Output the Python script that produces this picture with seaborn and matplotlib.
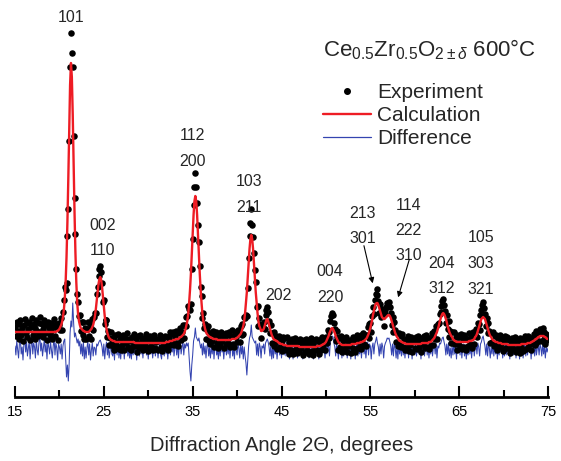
import numpy as np
import pandas as pd
import matplotlib
matplotlib.use('Agg')
import matplotlib.pyplot as plt
import seaborn as sns
from matplotlib.lines import Line2D

# 2Theta grid of the scan, 0.1 degree step
two_theta = np.linspace(15.0, 75.0, 601)

# calculated profile (one row per degree)
calc = np.array([
    65, 65, 65, 65, 65, 65, 65, 65, 65, 65,
    65, 65, 65, 65, 65, 65, 65, 65, 65, 65,
    65, 65, 65, 65, 65, 65, 65, 65, 65, 65,
    65, 65, 65, 65, 65, 65, 65, 65, 65, 65,
    65, 65, 65, 65, 65, 65, 65, 66, 66, 67,
    68, 70, 72, 75, 80, 87, 98, 115, 140, 175,
    218, 268, 312, 334, 320, 282, 233, 185, 145, 115,
    95, 83, 76, 72, 69, 68, 67, 66, 66, 65,
    65, 65, 65, 65, 66, 67, 68, 70, 72, 76,
    81, 88, 96, 105, 113, 118, 120, 117, 110, 100,
    90, 81, 74, 68, 64, 61, 59, 58, 57, 57,
    56, 56, 56, 55, 55, 55, 55, 55, 55, 55,
    55, 55, 55, 55, 55, 55, 55, 55, 55, 55,
    55, 55, 55, 55, 55, 54, 54, 54, 54, 54,
    54, 54, 54, 54, 54, 54, 54, 54, 54, 54,
    54, 54, 54, 54, 54, 54, 54, 54, 54, 54,
    54, 54, 54, 54, 54, 54, 54, 54, 54, 54,
    55, 55, 55, 55, 56, 56, 56, 56, 57, 57,
    57, 58, 58, 58, 58, 59, 60, 60, 61, 62,
    63, 65, 68, 72, 76, 83, 94, 107, 123, 142,
    162, 182, 196, 201, 196, 182, 162, 142, 123, 107,
    94, 83, 76, 72, 68, 65, 63, 62, 61, 60,
    60, 59, 59, 58, 58, 58, 58, 58, 57, 57,
    57, 57, 57, 57, 57, 57, 57, 57, 57, 57,
    57, 57, 57, 57, 58, 58, 58, 58, 58, 59,
    59, 60, 61, 62, 63, 65, 68, 71, 76, 84,
    94, 105, 119, 134, 148, 158, 162, 158, 148, 134,
    119, 105, 94, 84, 76, 71, 69, 66, 66, 67,
    68, 71, 74, 77, 78, 76, 72, 69, 65, 62,
    60, 58, 57, 57, 56, 56, 55, 54, 54, 53,
    53, 53, 52, 52, 52, 52, 51, 51, 51, 51,
    51, 51, 51, 51, 51, 51, 51, 51, 51, 51,
    50, 50, 50, 50, 50, 50, 50, 50, 50, 50,
    50, 50, 50, 50, 50, 50, 50, 50, 50, 50,
    51, 51, 51, 51, 51, 52, 52, 53, 53, 54,
    55, 57, 59, 61, 64, 66, 68, 69, 68, 66,
    64, 61, 59, 57, 55, 54, 53, 53, 52, 52,
    52, 52, 52, 52, 52, 52, 52, 52, 52, 53,
    53, 53, 53, 53, 53, 54, 54, 54, 54, 55,
    55, 55, 56, 56, 57, 58, 59, 61, 63, 66,
    69, 73, 77, 82, 86, 90, 93, 94, 94, 92,
    89, 86, 83, 80, 79, 78, 78, 79, 80, 81,
    82, 82, 81, 79, 76, 73, 70, 67, 64, 62,
    60, 59, 57, 56, 56, 55, 55, 54, 54, 54,
    53, 53, 53, 53, 53, 53, 53, 53, 53, 53,
    53, 53, 53, 53, 53, 53, 53, 53, 54, 54,
    54, 54, 54, 54, 54, 54, 55, 55, 55, 56,
    57, 58, 59, 61, 63, 65, 68, 71, 75, 78,
    81, 83, 84, 83, 81, 78, 75, 71, 68, 65,
    63, 61, 60, 58, 57, 56, 56, 55, 55, 55,
    55, 55, 55, 55, 55, 55, 55, 55, 55, 55,
    55, 56, 56, 56, 56, 57, 57, 58, 60, 61,
    63, 66, 69, 72, 75, 78, 79, 80, 79, 78,
    75, 72, 69, 66, 63, 61, 60, 58, 57, 56,
    56, 55, 55, 55, 54, 54, 54, 54, 53, 53,
    53, 53, 53, 53, 53, 52, 52, 52, 52, 52,
    52, 52, 52, 52, 52, 52, 52, 52, 52, 52,
    53, 53, 53, 53, 53, 53, 53, 54, 54, 54,
    54, 55, 55, 56, 56, 57, 58, 58, 59, 60,
    60, 61, 61, 61, 61, 61, 60, 60, 59, 58,
    58,
])

# experiment minus calculation
resid = np.array([
    5, -4, 10, 1, -7, 8, 12, -3, 4, -9,
    7, 13, -1, 9, -5, 3, 10, -8, 5, 14,
    -3, 8, 4, -7, 12, 1, -4, 9, 15, 0,
    8, -5, 3, 12, -1, 7, -8, 10, 4, -3,
    9, 1, -7, 5, 13, -4, 8, 3, -9, 7,
    4, -3, 7, -8, 5, 10, 12, -8, -26, -14,
    -30, -12, 18, 30, 24, 48, 28, 14, 18, 13,
    8, 12, 5, 10, -3, 7, -5, 9, -8, 4,
    -7, 3, 10, -4, 7, -9, 1, 8, -5, 4,
    3, -4, 7, 5, 8, 10, 11, 8, 4, -5,
    7, -8, 3, 9, -4, 5, -7, 1, 8, -3,
    -5, 4, -9, 7, 0, -4, 8, -7, 3, -8,
    5, -3, 7, -8, 4, -1, 9, -5, 3, -7,
    1, -8, 5, -4, 8, -3, 4, -9, 7, 0,
    -5, 8, -3, 4, -7, 5, -1, 9, -4, 3,
    -8, 4, 7, -3, 5, -7, 3, 8, -5, 1,
    4, -7, 3, 8, -4, -8, 5, 1, -5, 7,
    -3, 5, -8, 4, 9, -4, 7, -1, 8, -5,
    3, 8, -4, 7, -7, 5, 9, -3, 4, 10,
    -4, 7, 3, 8, 5, 8, -6, -20, -30, -14,
    -4, 10, 14, 23, 14, 12, 10, 13, 8, 3,
    7, -4, 8, -3, 5, -7, 4, 9, -5, 3,
    -7, 5, -3, 8, -8, 4, 7, -4, 1, -8,
    5, -5, 8, -1, 4, -8, 3, 7, -4, 5,
    -3, 8, -7, 4, 9, -5, 3, -8, 7, 1,
    -4, 7, 3, -7, 8, -3, 5, -8, 4, -5,
    -12, -24, -10, 5, 13, 16, 26, 14, 12, 10,
    8, 10, -4, 7, -5, 8, 4, -7, 5, 3,
    7, -3, 8, 10, 12, 9, 4, -5, 7, -8,
    4, -7, 8, -3, 5, -8, 3, 7, -4, 5,
    -7, 3, 8, -4, 7, -5, 9, -1, 4, -8,
    5, -4, 7, -8, 3, 8, -3, 4, -7, 5,
    -5, 8, -1, 4, -8, 7, 3, -5, 8, -3,
    4, -7, 5, 9, -4, 3, -8, 7, -3, 8,
    -4, 5, -8, 3, 7, -5, 8, -1, 4, -7,
    5, -3, 8, 4, -5, 10, 13, 15, 14, 8,
    4, -5, 7, 3, -8, 5, -3, 8, -7, 4,
    -5, 7, -3, 8, -7, 4, -1, 5, -8, 3,
    7, -4, 5, -8, 3, 8, -5, 4, -3, 7,
    -7, 4, 8, -3, 5, -7, 3, 9, -4, 7,
    5, -8, 4, 8, -3, 7, 10, 14, 8, 4,
    -5, 7, -3, 8, 4, -7, 5, 8, 10, 13,
    12, 13, 9, 5, -4, 7, -5, 8, 3, -7,
    4, -8, 7, -3, 5, -5, 8, -4, 3, -7,
    5, -3, 8, -7, 4, -1, 7, -8, 3, 5,
    -4, 7, -5, 3, 8, -3, 4, -8, 5, -1,
    7, -5, 3, 8, -4, 5, -7, 4, -3, 8,
    -5, 4, 7, -3, 8, -7, 5, 3, 8, 7,
    10, 13, 14, 9, 5, -4, 7, -3, 8, -5,
    3, -7, 5, -4, 8, -3, 4, -8, 7, -1,
    5, -4, 8, -7, 3, 7, -5, 4, -8, 3,
    -4, 8, -3, 5, -7, 4, 8, -5, 3, 7,
    -3, 8, 4, -5, 7, 9, 13, 15, 10, 5,
    -4, 7, -5, 8, 3, -7, 4, -3, 8, -5,
    5, -3, 7, -8, 4, -4, 8, -1, 5, -7,
    3, -5, 8, -4, 7, -3, 5, -8, 4, -1,
    7, -4, 3, 8, -7, 5, -3, 4, -8, 7,
    -3, 5, -7, 4, 8, -5, 3, -4, 7, -1,
    5, -8, 4, -3, 7, -5, 8, -4, 3, 5,
    -4, 7, 3, -5, 8, -3, 5, -7, 4, -1,
    3,
])

# hkl labels of the reflections
hkl_labels = [['101'], ['002', '110'], ['112', '200'], ['103', '211'], ['202'],
              ['004', '220'], ['213', '301'], ['114', '222', '310'],
              ['204', '312'], ['105', '303', '321']]

# where each label stack sits: x centre and y of top line
label_pos = [(21.3, 380), (24.9, 172), (35.0, 261), (41.3, 215), (44.65, 102),
             (50.47, 125), (54.1, 184), (59.3, 192), (63.03, 134), (67.43, 159)]

diff_offset = 46
red = '#ee1c24'
blue = '#3444b0'

df = pd.DataFrame({
    'two_theta': two_theta,
    'experiment': calc + resid,
    'calculation': calc,
    'difference': resid + diff_offset,
})

sns.set_theme(style='white')
plt.rcParams['font.family'] = ['Liberation Sans', 'DejaVu Sans']
plt.rcParams['mathtext.fontset'] = 'custom'
plt.rcParams['mathtext.rm'] = 'Liberation Sans'
plt.rcParams['mathtext.it'] = 'Liberation Sans:italic'

fig = plt.figure(figsize=(5.61, 4.61), dpi=100)
ax = fig.add_axes([15 / 561, 64 / 461, 533 / 561, 397 / 461])

sns.lineplot(data=df, x='two_theta', y='difference', color=blue, lw=0.75, ax=ax, zorder=1)
sns.scatterplot(data=df, x='two_theta', y='experiment', color='black', s=22,
                linewidth=0, ax=ax, zorder=2)
sns.lineplot(data=df, x='two_theta', y='calculation', color=red, lw=1.7, ax=ax, zorder=3)

ax.set_xlim(15, 75)
ax.set_ylim(0, 397)
ax.set_yticks([])
ax.set_ylabel('')
for side in ['left', 'top', 'right']:
    ax.spines[side].set_visible(False)
ax.spines['bottom'].set_linewidth(2)
ax.spines['bottom'].set_color('black')
ax.set_xticks(range(15, 76, 10))
ax.set_xticks(range(20, 75, 10), minor=True)
ax.tick_params(axis='x', which='major', direction='in', length=8, width=1.5,
               labelsize=10.5, pad=6, colors='black', bottom=True)
ax.tick_params(axis='x', which='minor', direction='in', length=5, width=1.5,
               colors='black', bottom=True)
ax.set_xlabel('Diffraction Angle 2Θ, degrees', fontsize=14.5, labelpad=12)

# peak labels
for lines, (lx, ly) in zip(hkl_labels, label_pos):
    for i, txt in enumerate(lines):
        ax.text(lx, ly - 25.5 * i, txt, ha='center', va='center', fontsize=11.5)

# arrows for the 213/301 and 114/222/310 groups
ax.annotate('', xy=(55.34, 111), xytext=(54.21, 154),
            arrowprops=dict(arrowstyle='-|>', color='black', lw=0.8, mutation_scale=8))
ax.annotate('', xy=(58.04, 97), xytext=(59.47, 140),
            arrowprops=dict(arrowstyle='-|>', color='black', lw=0.8, mutation_scale=8))

ax.text(0.578, 0.874, r'Ce$_{0.5}$Zr$_{0.5}$O$_{2\pm\delta}$ 600°C', transform=ax.transAxes,
        ha='left', va='center', fontsize=16)

handles = [Line2D([], [], marker='o', ls='none', color='black', markersize=4),
           Line2D([], [], color=red, lw=1.7),
           Line2D([], [], color=blue, lw=0.9)]
ax.legend(handles, ['Experiment', 'Calculation', 'Difference'], loc='upper left',
          bbox_to_anchor=(0.578, 0.79), frameon=False, fontsize=15,
          handlelength=2.3, handletextpad=0.3, labelspacing=0.18,
          borderaxespad=0, borderpad=0)

fig.savefig('out.png', dpi=100)
